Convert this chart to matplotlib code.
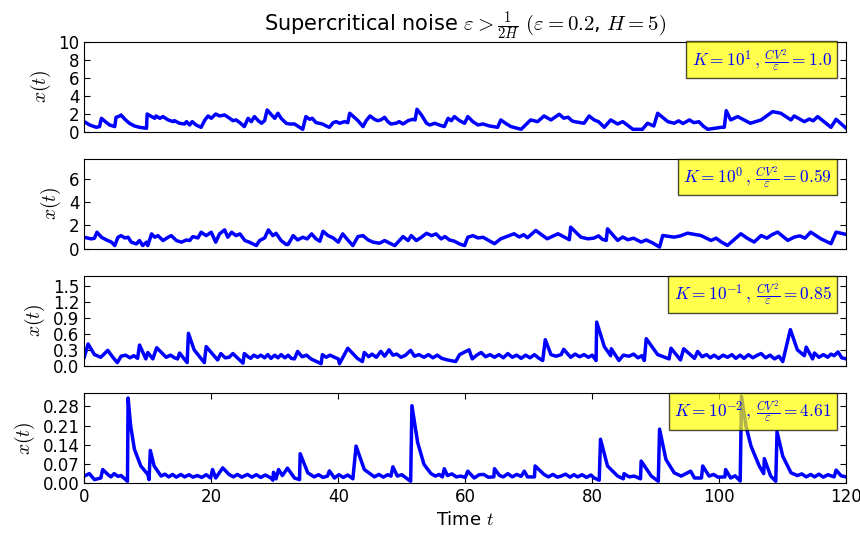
import matplotlib
matplotlib.use("Agg")
import matplotlib.pyplot as plt

# (t, x) points, one list per panel
pts_k1 = [(0, 1.11), (0.85, 0.74), (1.9, 0.48), (2.4, 0.56), (2.7, 1.48), (3.5, 1.0), (4.0, 0.74), (4.8, 0.56),
          (5.0, 1.59), (5.6, 1.74), (5.8, 1.85), (6.4, 1.37), (7.1, 0.93), (7.9, 0.63), (8.7, 0.48), (9.8, 0.37),
          (9.9, 1.96), (10.6, 1.67), (11.1, 1.48), (11.3, 1.74), (11.9, 1.48), (12.4, 1.67), (13.2, 1.3),
          (14.0, 1.11), (14.2, 1.22), (15.0, 0.93), (15.8, 0.85), (16.1, 1.11), (16.6, 0.74), (17.0, 1.11),
          (17.6, 0.74), (18.4, 0.48), (19.0, 1.3), (19.5, 1.74), (20.0, 1.48), (20.7, 1.96), (21.3, 1.74),
          (22.1, 1.85), (22.9, 1.48), (23.4, 1.22), (23.9, 1.3), (24.5, 1.0), (25.2, 0.56), (25.8, 1.48),
          (26.3, 1.11), (26.8, 1.67), (27.4, 1.22), (27.9, 0.93), (28.4, 1.22), (28.8, 2.41), (29.5, 1.85),
          (30.0, 1.48), (30.5, 2.04), (31.0, 1.48), (31.8, 0.93), (32.3, 0.85), (33.1, 0.85), (33.9, 0.48),
          (34.4, 0.26), (34.9, 1.67), (35.5, 1.37), (35.9, 1.48), (36.5, 1.0), (37.5, 0.85), (38.1, 0.63),
          (38.6, 0.48), (39.2, 1.0), (39.7, 1.11), (40.2, 0.93), (41.0, 1.11), (41.5, 1.0), (41.8, 2.04),
          (42.4, 1.67), (43.1, 1.22), (43.9, 0.56), (44.4, 1.22), (45.0, 1.74), (45.7, 1.37), (46.2, 1.22),
          (46.7, 1.3), (47.3, 1.59), (47.8, 1.11), (48.3, 0.85), (49.1, 0.93), (49.6, 1.11), (50.2, 0.85),
          (51.0, 1.22), (51.7, 1.37), (52.1, 1.3), (52.4, 2.48), (53.1, 1.85), (53.9, 0.93), (54.4, 0.74),
          (55.2, 0.93), (55.9, 0.74), (56.7, 0.56), (57.3, 1.48), (57.8, 1.22), (58.3, 1.67), (59.1, 1.22),
          (59.9, 0.93), (60.4, 1.67), (61.2, 1.11), (62.0, 0.74), (62.8, 0.85), (63.8, 0.63), (65.1, 0.48),
          (65.6, 1.3), (66.4, 0.9), (67.2, 0.56), (68.8, 0.26), (70.3, 1.3), (71.4, 1.11), (72.4, 1.74),
          (73.5, 1.3), (74.8, 1.93), (75.5, 1.5), (76.2, 1.6), (76.8, 1.2), (77.2, 1.11), (78.7, 0.93),
          (79.5, 1.74), (80.3, 1.3), (81.0, 1.1), (81.9, 0.48), (82.9, 1.3), (84.0, 0.85), (84.8, 1.11),
          (86.4, 0.26), (87.9, 0.26), (88.7, 0.93), (89.7, 0.63), (90.3, 2.04), (91.9, 1.11), (92.9, 0.93),
          (93.6, 1.2), (94.3, 0.9), (95.3, 1.3), (96.0, 1.0), (96.8, 1.1), (97.5, 0.6), (98.2, 0.26),
          (100.3, 0.48), (100.8, 0.48), (101.1, 2.33), (101.8, 1.3), (102.9, 1.67), (104.9, 0.93),
          (105.7, 1.1), (106.6, 1.3), (108.4, 2.22), (109.7, 2.04), (111.3, 1.3), (111.8, 1.74),
          (113.4, 1.11), (114.2, 1.4), (114.8, 1.2), (115.5, 1.67), (117.6, 0.48), (118.4, 1.37), (120, 0.37)]

pts_k0 = [(0, 0.98), (1.1, 0.84), (1.6, 0.9), (2.0, 1.41), (2.7, 0.98), (3.5, 0.75), (4.3, 0.56), (4.8, 0.27),
          (5.3, 0.98), (5.8, 1.12), (6.4, 0.92), (6.9, 0.98), (7.4, 0.56), (8.2, 0.41), (8.7, 0.7), (9.2, 0.27),
          (9.8, 0.56), (10.0, 0.27), (10.6, 1.27), (11.1, 0.98), (11.6, 1.12), (12.4, 0.7), (13.2, 0.98),
          (13.7, 1.12), (14.5, 0.7), (15.3, 0.56), (16.1, 0.75), (16.6, 0.7), (17.1, 1.04), (17.9, 0.92),
          (18.4, 1.41), (19.2, 1.12), (20.0, 1.41), (20.7, 0.56), (21.3, 1.27), (22.1, 1.61), (22.6, 0.98),
          (23.2, 1.41), (23.9, 1.12), (24.5, 1.27), (25.3, 0.7), (26.0, 0.56), (27.1, 0.27), (27.6, 0.7),
          (28.4, 0.92), (29.0, 1.61), (29.7, 1.12), (30.2, 1.32), (31.0, 0.7), (31.8, 0.36), (32.1, 0.36),
          (32.9, 1.12), (33.6, 0.75), (34.4, 0.98), (35.1, 0.84), (35.8, 1.27), (36.5, 0.84), (37.1, 0.64),
          (37.6, 1.49), (38.4, 1.12), (39.2, 0.92), (40.0, 0.56), (40.7, 1.27), (41.5, 0.75), (42.3, 0.27),
          (43.1, 1.04), (43.9, 1.12), (44.7, 0.75), (45.5, 0.56), (46.5, 0.47), (47.3, 0.7), (48.1, 0.47),
          (48.9, 0.27), (49.7, 0.75), (50.2, 1.04), (51.0, 0.7), (51.5, 1.12), (52.3, 0.7), (53.1, 0.98),
          (53.9, 1.32), (54.7, 1.12), (55.4, 1.27), (56.2, 0.84), (56.8, 1.04), (57.5, 0.75), (58.3, 0.64),
          (59.1, 0.41), (59.9, 0.27), (60.4, 0.98), (61.2, 1.12), (62.0, 0.92), (62.8, 0.98), (64.6, 0.43),
          (65.6, 0.85), (67.7, 1.28), (68.5, 1.0), (69.2, 1.2), (69.8, 0.94), (71.1, 1.56), (72.9, 0.85),
          (74.6, 1.28), (76.4, 0.77), (76.6, 1.84), (78.2, 0.99), (79.3, 0.85), (80.2, 0.9), (81.0, 1.1),
          (81.6, 0.8), (82.2, 0.71), (82.4, 1.7), (84.0, 0.71), (84.8, 1.0), (85.6, 0.77), (86.5, 0.9),
          (87.7, 0.57), (88.5, 0.75), (89.5, 0.5), (90.6, 0.14), (91.1, 1.13), (92.9, 0.99), (93.9, 1.1),
          (95.0, 1.33), (97.1, 1.13), (98.7, 0.71), (99.5, 0.9), (100.4, 0.55), (101.3, 0.28), (103.4, 1.28),
          (104.4, 0.9), (105.5, 0.57), (106.6, 1.13), (107.5, 0.9), (108.3, 1.2), (109.2, 1.42), (110.8, 0.71),
          (111.8, 0.99), (112.7, 1.1), (113.5, 0.9), (114.4, 1.42), (116.0, 0.85), (117.6, 0.43),
          (118.4, 1.42), (120, 1.22)]

pts_km1 = [(0, 0.16), (0.6, 0.41), (1.6, 0.21), (2.6, 0.16), (3.7, 0.29), (4.5, 0.16), (5.2, 0.06), (5.8, 0.18),
           (6.5, 0.2), (7.2, 0.15), (7.8, 0.19), (8.4, 0.14), (8.7, 0.39), (9.7, 0.13), (10.0, 0.25), (10.8, 0.13),
           (11.4, 0.34), (12.9, 0.16), (13.6, 0.2), (14.2, 0.15), (14.7, 0.13), (15.0, 0.24), (16.2, 0.06),
           (16.4, 0.61), (17.3, 0.3), (18.9, 0.06), (19.2, 0.36), (21.0, 0.11), (21.5, 0.23), (22.2, 0.15),
           (22.8, 0.16), (23.4, 0.23), (25.0, 0.05), (25.2, 0.23), (25.8, 0.17), (26.2, 0.14), (26.7, 0.2),
           (27.3, 0.16), (27.8, 0.2), (28.4, 0.15), (28.9, 0.21), (29.4, 0.14), (30.0, 0.2), (30.5, 0.15),
           (31.0, 0.21), (31.6, 0.15), (32.1, 0.2), (32.6, 0.14), (33.1, 0.13), (33.6, 0.27), (34.3, 0.17),
           (35.0, 0.2), (35.7, 0.13), (37.3, 0.04), (37.5, 0.21), (38.1, 0.16), (38.7, 0.2), (39.4, 0.16),
           (40.0, 0.13), (40.2, 0.04), (41.5, 0.33), (43.0, 0.14), (43.8, 0.08), (44.1, 0.25), (44.8, 0.17),
           (45.3, 0.22), (46.0, 0.16), (46.7, 0.27), (47.3, 0.18), (48.0, 0.3), (48.6, 0.2), (49.2, 0.22),
           (49.9, 0.16), (50.6, 0.2), (51.4, 0.29), (52.0, 0.18), (52.7, 0.21), (53.5, 0.16), (54.2, 0.21),
           (54.9, 0.15), (55.6, 0.2), (56.3, 0.14), (57.2, 0.11), (58.5, 0.08), (59.1, 0.21), (60.6, 0.3),
           (61.1, 0.13), (61.8, 0.2), (62.5, 0.25), (63.2, 0.17), (63.9, 0.21), (64.6, 0.16), (65.3, 0.21),
           (66.0, 0.15), (66.7, 0.23), (67.4, 0.16), (68.1, 0.2), (68.8, 0.14), (69.5, 0.2), (70.2, 0.15),
           (70.9, 0.21), (71.5, 0.15), (72.2, 0.1), (72.6, 0.49), (73.5, 0.21), (74.3, 0.18), (75.1, 0.21),
           (75.5, 0.31), (76.6, 0.16), (77.3, 0.22), (78.0, 0.17), (78.7, 0.21), (79.4, 0.16), (80.0, 0.2),
           (80.6, 0.1), (80.7, 0.82), (81.9, 0.36), (82.9, 0.19), (83.0, 0.32), (84.2, 0.1), (84.9, 0.2),
           (85.8, 0.18), (86.5, 0.22), (87.2, 0.15), (87.8, 0.19), (88.2, 0.1), (88.5, 0.51), (90.3, 0.21),
           (91.2, 0.17), (92.1, 0.13), (92.4, 0.33), (93.9, 0.11), (94.4, 0.32), (96.1, 0.14), (96.6, 0.27),
           (97.3, 0.17), (98.0, 0.21), (98.6, 0.15), (99.2, 0.2), (99.9, 0.14), (100.6, 0.2), (101.3, 0.16),
           (102.0, 0.21), (102.6, 0.14), (103.3, 0.2), (103.9, 0.14), (104.6, 0.21), (105.3, 0.15),
           (106.0, 0.2), (106.6, 0.23), (107.3, 0.15), (108.0, 0.2), (108.7, 0.13), (109.4, 0.18),
           (110.0, 0.08), (111.2, 0.68), (112.3, 0.3), (113.4, 0.19), (113.7, 0.35), (114.7, 0.13),
           (115.0, 0.24), (115.7, 0.16), (116.4, 0.21), (117.1, 0.16), (117.6, 0.22), (118.1, 0.19),
           (118.7, 0.26), (119.3, 0.15), (120, 0.13)]

pts_km2 = [(0, 0.025), (0.8, 0.034), (1.6, 0.012), (2.6, 0.018), (2.9, 0.049), (3.7, 0.031), (4.2, 0.022),
           (4.7, 0.034), (5.3, 0.024), (5.8, 0.027), (6.8, 0.006), (6.9, 0.311), (7.3, 0.209), (7.9, 0.123),
           (8.9, 0.062), (10.0, 0.031), (10.2, 0.012), (10.4, 0.119), (11.0, 0.062), (12.1, 0.025),
           (12.7, 0.032), (13.3, 0.022), (13.9, 0.031), (14.5, 0.021), (15.2, 0.031), (15.8, 0.022),
           (16.5, 0.03), (17.1, 0.021), (17.8, 0.027), (18.5, 0.02), (19.2, 0.03), (19.9, 0.018), (20.2, 0.049),
           (20.7, 0.018), (21.8, 0.055), (22.8, 0.031), (23.5, 0.022), (24.1, 0.031), (24.8, 0.021),
           (25.7, 0.031), (26.4, 0.021), (27.1, 0.03), (27.8, 0.02), (28.5, 0.029), (29.4, 0.018), (29.7, 0.01),
           (29.8, 0.039), (30.2, 0.015), (30.6, 0.049), (31.2, 0.027), (32.0, 0.054), (33.1, 0.018),
           (33.9, 0.012), (34.0, 0.107), (35.2, 0.037), (36.2, 0.022), (36.9, 0.03), (37.6, 0.02), (38.3, 0.025),
           (38.6, 0.044), (39.4, 0.018), (40.1, 0.03), (40.8, 0.02), (41.5, 0.029), (42.3, 0.015), (42.8, 0.135),
           (44.1, 0.049), (45.7, 0.022), (46.4, 0.031), (47.1, 0.021), (47.8, 0.03), (48.3, 0.025),
           (48.6, 0.059), (49.3, 0.025), (50.0, 0.03), (50.7, 0.018), (51.4, 0.006), (51.6, 0.283),
           (52.5, 0.148), (53.5, 0.068), (54.6, 0.034), (55.3, 0.025), (55.9, 0.031), (56.4, 0.022),
           (56.7, 0.052), (57.2, 0.027), (57.9, 0.033), (58.6, 0.022), (59.3, 0.025), (60.0, 0.02),
           (60.4, 0.043), (61.4, 0.018), (62.2, 0.03), (62.9, 0.031), (63.6, 0.021), (64.5, 0.022),
           (64.6, 0.052), (65.4, 0.027), (66.0, 0.022), (66.7, 0.034), (67.4, 0.022), (68.1, 0.031),
           (68.8, 0.024), (69.3, 0.043), (69.8, 0.022), (70.9, 0.022), (71.0, 0.062), (72.4, 0.031),
           (73.1, 0.022), (73.8, 0.031), (74.5, 0.021), (75.1, 0.025), (75.8, 0.032), (76.5, 0.021),
           (77.1, 0.03), (77.7, 0.022), (78.4, 0.03), (79.1, 0.02), (79.8, 0.029), (80.3, 0.018), (81.1, 0.01),
           (81.3, 0.16), (82.4, 0.062), (84.0, 0.025), (84.9, 0.015), (85.0, 0.034), (85.8, 0.022),
           (86.6, 0.025), (87.6, 0.015), (87.7, 0.08), (89.3, 0.025), (90.4, 0.006), (90.6, 0.197),
           (91.6, 0.086), (92.9, 0.037), (94.0, 0.025), (95.5, 0.043), (96.1, 0.018), (97.2, 0.018),
           (97.4, 0.062), (98.4, 0.025), (99.1, 0.031), (99.8, 0.021), (100.9, 0.022), (101.0, 0.049),
           (101.8, 0.018), (102.5, 0.026), (103.3, 0.007), (103.5, 0.317), (104.2, 0.209), (105.0, 0.135),
           (106.3, 0.062), (107.0, 0.034), (107.1, 0.089), (108.1, 0.025), (108.9, 0.006), (109.1, 0.188),
           (110.0, 0.098), (111.3, 0.037), (112.3, 0.027), (113.0, 0.033), (113.7, 0.022), (114.4, 0.031),
           (115.0, 0.022), (115.7, 0.032), (116.4, 0.021), (117.1, 0.03), (118.1, 0.022), (118.4, 0.047),
           (119.2, 0.026), (120, 0.022)]

labels = [r"$K=10^{1}\,,\,\frac{CV^2}{\varepsilon}=1.0$",
          r"$K=10^{0}\,,\,\frac{CV^2}{\varepsilon}=0.59$",
          r"$K=10^{-1}\,,\,\frac{CV^2}{\varepsilon}=0.85$",
          r"$K=10^{-2}\,,\,\frac{CV^2}{\varepsilon}=4.61$"]
ytops = [10, 7.7, 1.69, 0.33]
yticks = [[0, 2, 4, 6, 8, 10], [0, 2, 4, 6], [0.0, 0.3, 0.6, 0.9, 1.2, 1.5], [0.0, 0.07, 0.14, 0.21, 0.28]]

plt.rcParams['mathtext.fontset'] = 'cm'
plt.rcParams['xtick.direction'] = 'in'
plt.rcParams['ytick.direction'] = 'in'
plt.rcParams['xtick.top'] = True
plt.rcParams['ytick.right'] = True
plt.rcParams['font.size'] = 12

fig, axes = plt.subplots(4, 1, figsize=(8.6, 5.33), dpi=100)
fig.subplots_adjust(left=0.098, right=0.984, bottom=0.094, top=0.922, hspace=0.3)

series = [pts_k1, pts_k0, pts_km1, pts_km2]
for i, ax in enumerate(axes):
    t = [p[0] for p in series[i]]
    x = [p[1] for p in series[i]]
    ax.plot(t, x, color='blue', lw=2.5)
    ax.set_xlim(0, 120)
    ax.set_ylim(0, ytops[i])
    ax.set_yticks(yticks[i])
    ax.set_ylabel(r"$x(t)$", fontsize=14)
    ax.tick_params(length=4, width=0.8)
    ax.text(0.981, 0.94, labels[i], transform=ax.transAxes, ha='right', va='top',
            color='blue', fontsize=12.5, zorder=5,
            bbox=dict(facecolor='yellow', edgecolor='black', alpha=0.7, pad=4))
    if i < 3:
        ax.set_xticks([])

axes[3].set_xticks([0, 20, 40, 60, 80, 100, 120])
axes[3].set_xlabel(r"Time $t$", fontsize=13)
axes[0].set_title(r"Supercritical noise $\varepsilon>\frac{1}{2H}$ $(\varepsilon=0.2$, $H=5)$", fontsize=15)

fig.savefig("out.png", dpi=100)
